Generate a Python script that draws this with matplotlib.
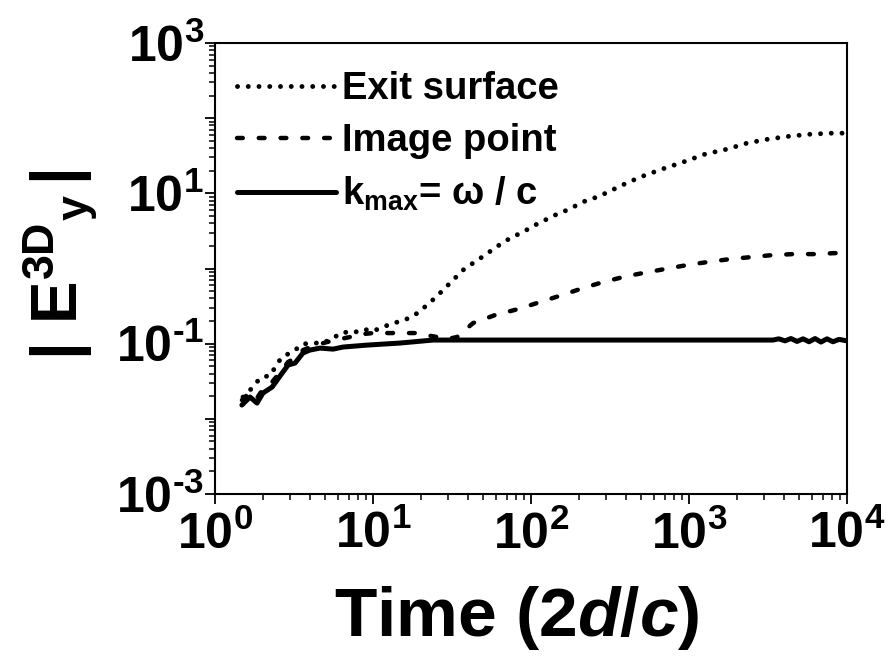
import matplotlib
matplotlib.use("Agg")
import matplotlib.pyplot as plt
from matplotlib.ticker import LogLocator, FixedLocator, NullFormatter

plt.rcParams['font.family'] = ['Liberation Sans', 'DejaVu Sans']
plt.rcParams['font.weight'] = 'bold'
plt.rcParams['axes.labelweight'] = 'bold'
plt.rcParams['mathtext.fontset'] = 'custom'
plt.rcParams['mathtext.rm'] = 'Liberation Sans:bold'
plt.rcParams['mathtext.bf'] = 'Liberation Sans:bold'
plt.rcParams['mathtext.it'] = 'Liberation Sans:bold:italic'
plt.rcParams['mathtext.default'] = 'rm'

# ---- data ----
exit_t = [1.504, 1.740, 1.927, 2.262, 2.433, 2.694, 3.117, 3.553, 4.172, 4.826,
          5.582, 6.458, 7.470, 8.644, 10.0, 11.57, 13.39, 15.26, 17.40, 19.55,
          22.29, 25.04, 28.56, 32.09, 37.12, 42.95, 48.97, 56.65, 65.53, 75.82,
          88.99, 102.9, 122.6, 141.9, 169.0, 195.5, 226.1, 261.6, 307.1, 365.8,
          489.7, 674.9, 916.1, 1263, 1740, 2329, 3162, 4357, 5920, 8037, 10000]
exit_e = [0.01950, 0.02648, 0.03488, 0.03823, 0.05192, 0.06841, 0.07732, 0.09879, 0.1019, 0.1019,
          0.1187, 0.1427, 0.1384, 0.1563, 0.1471, 0.1662, 0.1878, 0.1998, 0.2258, 0.2631,
          0.3362, 0.4166, 0.5488, 0.7009, 0.9522, 1.180, 1.418, 1.757, 2.177, 2.616,
          3.048, 3.663, 4.402, 5.130, 5.979, 6.968, 8.121, 8.903, 10.38, 12.46,
          16.42, 20.98, 25.99, 33.21, 38.70, 46.52, 52.56, 57.63, 61.26, 63.17, 63.17]

image_t = [1.482, 1.665, 1.845, 2.013, 2.296, 2.656, 2.897, 3.209, 3.606, 4.172,
           5.115, 6.183, 7.152, 8.644, 10.0, 13.39, 18.44, 25.42, 29.40, 34.01,
           38.22, 42.95, 59.18, 82.75, 114.0, 157.1, 213.4, 285.5, 405.1, 550.4,
           758.1, 971.2, 1300, 1818, 2469, 3352, 4552, 6183, 8398, 10000]
image_e = [0.01778, 0.02273, 0.01891, 0.02490, 0.03086, 0.04456, 0.05692, 0.06435, 0.08223, 0.09292,
           0.1050, 0.1151, 0.1225, 0.1342, 0.1384, 0.1384, 0.1384, 0.1225, 0.1151, 0.1225,
           0.1517, 0.1878, 0.2400, 0.2884, 0.3574, 0.4429, 0.5488, 0.6594, 0.7923, 0.8956,
           1.012, 1.110, 1.216, 1.334, 1.418, 1.507, 1.554, 1.554, 1.602, 1.602]

kmax_t = [1.48, 1.665, 1.845, 2.01, 2.30, 2.66, 2.90, 3.21, 3.60, 3.99,
          4.62, 5.59, 6.46, 9.17, 14.8, 24.0, 63.7, 273, 1175, 3400,
          3700, 4050, 4420, 4830, 5270, 5750, 6280, 6840, 7470, 8150, 8900, 10000]
kmax_e = [0.01526, 0.0195, 0.0162, 0.0220, 0.0265, 0.0406, 0.0519, 0.0552, 0.0750, 0.0822,
          0.0873, 0.0846, 0.0902, 0.0957, 0.1019, 0.1117, 0.1117, 0.1117, 0.1117, 0.1117,
          0.1160, 0.1090, 0.1170, 0.1070, 0.1160, 0.1060, 0.1170, 0.1050, 0.1160, 0.1060, 0.1140, 0.1090]

labels = ['Exit surface', 'Image point', r'k$_{\mathrm{max}}$= ω / c']
xticks = [1, 10, 100, 1000, 10000]
xticklabels = [r'$10^{0}$', r'$10^{1}$', r'$10^{2}$', r'$10^{3}$', r'$10^{4}$']
yticks = [1e-3, 1e-1, 1e1, 1e3]
yticklabels = [r'$10^{\text{-}3}$', r'$10^{\text{-}1}$', r'$10^{1}$', r'$10^{3}$']

fig = plt.figure(figsize=(8.9, 6.6), dpi=100)
ax = fig.add_axes([215/890, 1-494/660, (847-215)/890, (494-43)/660])

ax.plot(exit_t, exit_e, color='black', lw=3.5, linestyle=(0, (0.01, 2.2)),
        dash_capstyle='round', label=labels[0])
ax.plot(image_t, image_e, color='black', lw=3.2, linestyle=(0, (1.3, 3.6)),
        dash_capstyle='round', label=labels[1])
ax.plot(kmax_t, kmax_e, color='black', lw=3.6, solid_capstyle='round',
        label=labels[2])

ax.set_xscale('log')
ax.set_yscale('log')
ax.set_xlim(1, 1e4)
ax.set_ylim(1e-3, 1e3)

ax.xaxis.set_major_locator(FixedLocator(xticks))
ax.set_xticklabels(xticklabels)
ax.yaxis.set_minor_locator(LogLocator(base=10, subs=range(2, 10), numticks=20))
ax.xaxis.set_minor_locator(LogLocator(base=10, subs=range(2, 10), numticks=20))
ax.yaxis.set_minor_formatter(NullFormatter())
ax.xaxis.set_minor_formatter(NullFormatter())
ax.set_yticks(yticks + [1e-2, 1e0, 1e2])
ax.set_yticklabels(yticklabels + ['', '', ''])

for s in ax.spines.values():
    s.set_linewidth(1.5)
ax.tick_params(which='major', direction='out', length=7, width=1.3,
               labelsize=36)
ax.tick_params(axis='y', which='major', pad=1)
ax.tick_params(axis='x', which='major', pad=5)
ax.tick_params(which='minor', direction='out', length=4, width=1.1)
ax.tick_params(top=False, right=False)

ax.set_xlabel(r'Time (2$\mathit{d/c}$)', fontsize=50, labelpad=18)
ax.xaxis.label.set_x(0.478)
fig.text(60/890, 1-265/660, r'$|\ \mathrm{E}^{3D}{}_{y}\,|$', rotation=90,
         fontsize=46, ha='center', va='center')

leg = ax.legend(loc='upper left', bbox_to_anchor=(0.035, 0.938), frameon=False,
                fontsize=27.5, handlelength=2.6, handletextpad=0.15,
                labelspacing=0.42, borderaxespad=0.0, borderpad=0.0)

fig.savefig('out.png', dpi=100)
